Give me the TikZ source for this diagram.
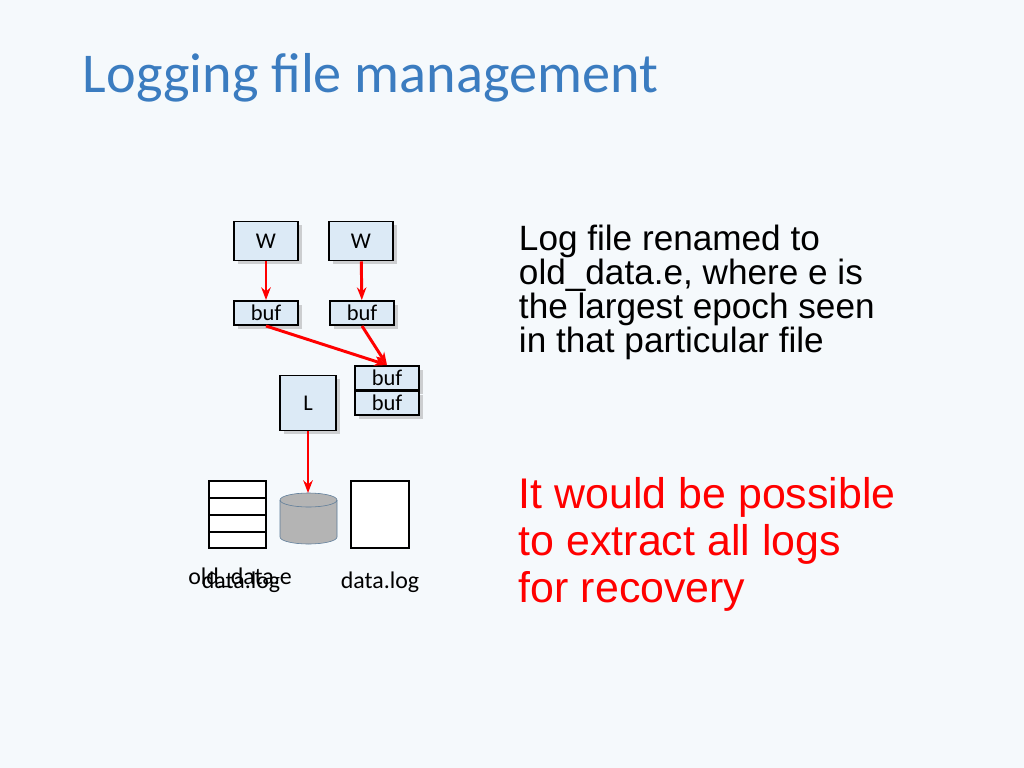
\documentclass[tikz,border=0pt]{standalone}
\usepackage{fontspec}
\setmainfont{Liberation Sans}
\newfontfamily\boxfont{Carlito}
\usetikzlibrary{positioning,shadows,arrows.meta}
\definecolor{bgcol}{HTML}{F5F9FC}
\definecolor{titleblue}{HTML}{3B7CC0}
\definecolor{boxblue}{HTML}{DCEAF6}
\definecolor{diskgray}{HTML}{B4B4B4}
\definecolor{diskedge}{HTML}{5A7A98}
\tikzset{
  procbox/.style={draw=black,line width=1.4pt,fill=boxblue,drop shadow={opacity=0.35},font=\boxfont\fontsize{16}{16}\selectfont,inner sep=0pt},
  bufbox/.style={procbox,minimum width=64\pxu,minimum height=24\pxu},
  flow/.style={draw=red,line width=2.1pt,-{Stealth[length=9pt]}}
}
\newlength\pxu \setlength\pxu{0.025cm}
\begin{document}
\begin{tikzpicture}[x=0.025cm,y=-0.025cm]
\fill[bgcol] (0,0) rectangle (1024,768);
\useasboundingbox (0,0) rectangle (1024,768);
\node[anchor=west,text=titleblue,font=\boxfont\fontsize{40}{40}\selectfont] (title) at (78,78) {Logging file management};

% writers and their buffers
\node[procbox,minimum width=64\pxu,minimum height=39\pxu] (w1) at (266,241) {W};
\node[procbox,minimum width=64\pxu,minimum height=39\pxu] (w2) at (361,241) {W};
\node[bufbox] (buf1) at (266,313) {buf};
\node[bufbox] (buf2) at (362,313) {buf};
\node[bufbox] (buf3) at (387,378) {buf};
\node[bufbox] (buf4) at (387,403) {buf};
\node[procbox,minimum width=56\pxu,minimum height=55\pxu] (logger) at (308,403) {L};

% storage
\draw[line width=1.4pt,fill=white] (209,481) rectangle (266,548);
\foreach \yy in {498,515,532} \draw[line width=1.4pt] (209,\yy) -- (266,\yy);
\fill[diskgray] (280,500) -- (280,537) arc[start angle=180,end angle=360,x radius=28.5,y radius=-7] -- (337,500) arc[start angle=0,end angle=180,x radius=28.5,y radius=-7];
\draw[diskedge] (280,500) -- (280,537) arc[start angle=180,end angle=360,x radius=28.5,y radius=-7] -- (337,500);
\draw[diskedge] (308.5,500) ellipse[x radius=28.5,y radius=7];
\coordinate (disk) at (308,493);
\draw[line width=1.4pt,fill=white] (351,481) rectangle (409,548);

\node[font=\boxfont\fontsize{17}{17}\selectfont] (oldlbl) at (240,578) {old\_data.e};
\node[font=\boxfont\fontsize{17}{17}\selectfont] (dl1) at (241,582) {data.log};
\node[font=\boxfont\fontsize{17}{17}\selectfont] (dl2) at (380,582) {data.log};

% arrows
\draw[flow] (w1) -- (buf1);
\draw[flow] (w2) -- (buf2);
\draw[flow] (buf1.south) -- (buf3.north);
\draw[flow] (buf2.south) -- (buf3.north);
\draw[flow] (logger) -- (disk);

% notes
\node[anchor=north west,align=left,font=\fontsize{25}{22}\selectfont] (note) at (514,220) {Log file renamed to\\old\_data.e, where e is\\the largest epoch seen\\in that particular file};
\node[anchor=north west,align=left,text=red,font=\fontsize{30.5}{33.5}\selectfont] (remark) at (514,472) {It would be possible\\to extract all logs\\for recovery};
\end{tikzpicture}
\end{document}
